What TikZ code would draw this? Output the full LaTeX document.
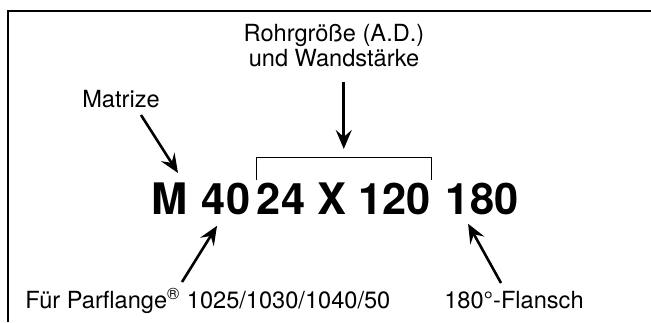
\documentclass[tikz,border=0pt]{standalone}
\usepackage{fontspec}
\setmainfont{TeX Gyre Heros}
\usetikzlibrary{arrows.meta,calc,positioning}

\begin{document}
\begin{tikzpicture}[
  x=0.5pt,y=0.5pt,
  >={Stealth[length=9.5pt,width=8pt,inset=3.5pt]},
  label/.style ={inner sep=0pt,font=\fontsize{11.8}{12.6}\selectfont,align=center},
  code/.style  ={inner sep=0pt,anchor=base west,font=\fontsize{21.7}{24}\selectfont\bfseries},
  arrow/.style ={->,line width=1.3pt},
  bracket/.style={line width=0.5pt},
]
\useasboundingbox (0,0) rectangle (651,322);

%% --- frame (top and left edge) ---
\draw[line width=0.6pt] (8,0) -- (8,311) -- (651,311);

%% ======================================================
%% Order code: M 40 24 X 120 180
%% ======================================================
\node[code] (m)      at (151.5,108) {M};
\node[code] (forty)  at (201.5,108) {40};
\node[code] (size)   at (256.5,108) {24 X 120};
\node[code] (flange) at (445.5,108) {180};

%% --- labels ---
\node[label,anchor=base]      (matrize)   at (121,215) {Matrize};
\node[label,anchor=south]     (pipe)      at (334,255) {Rohrgröße (A.D.)\\und Wandstärke};
\node[label,anchor=base west] (parflange) at (25,14)   {Für Parflange\textsuperscript{®} 1025/1030/1040/50};
\node[label,anchor=base]      (flansch)   at (514,14)  {180°-Flansch};

%% --- bracket over pipe size ---
\draw[bracket] ([yshift=1pt]size.north west) -- ([yshift=12pt]size.north west)
               -- ([yshift=12pt]size.north east) -- ([yshift=1pt]size.north east);

%% --- arrows ---
\draw[arrow] ($(matrize.base)+(20,-8)$) -- ($(m.north)+(8,9)$);
\draw[arrow] ($(pipe.south -| size.north)+(0,-15)$) -- ([yshift=16.5pt]size.north);
\draw[arrow] ($(parflange.base west)+(157,26)$) -- ($(forty.south)+(-9,-11)$);
\draw[arrow] ($(flansch.base)+(-13,25)$) -- ($(flange.south)+(-14,-9)$);

\end{tikzpicture}
\end{document}
